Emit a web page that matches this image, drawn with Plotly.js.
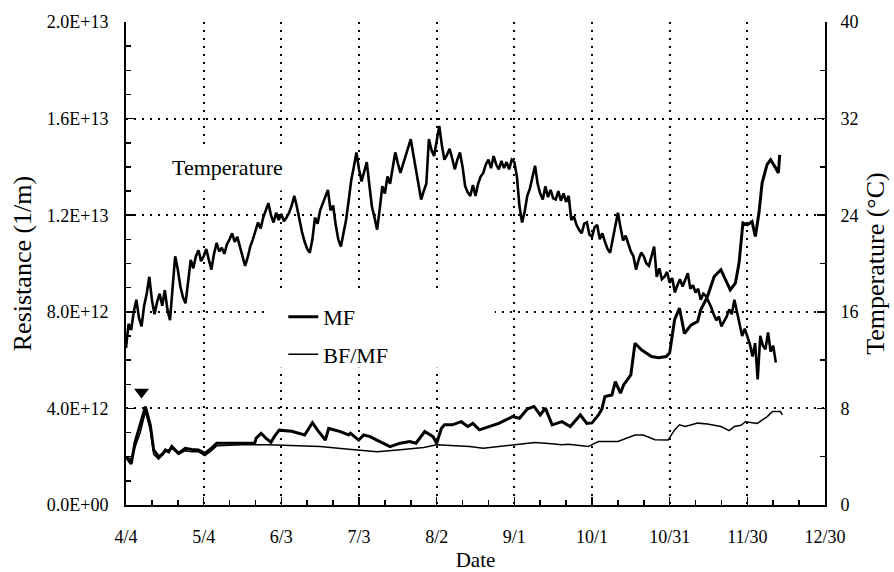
<!DOCTYPE html>
<html>
<head>
<meta charset="utf-8">
<script src="https://cdn.plot.ly/plotly-3.0.1.min.js"></script>
<style>html,body{margin:0;padding:0;background:#fff;}#chart{width:894px;height:572px;}</style>
</head>
<body>
<div id="chart"></div>
<script>
// ---- data (x = days after 4/4) ----
const xTickVals = [0, 30, 60, 90, 120, 150, 180, 210, 240, 270];
const xTickText = ['4/4', '5/4', '6/3', '7/3', '8/2', '9/1', '10/1', '10/31', '11/30', '12/30'];
const yTickVals = [0, 4e12, 8e12, 1.2e13, 1.6e13, 2e13];
const yTickText = ['0.0E+00', '4.0E+12', '8.0E+12', '1.2E+13', '1.6E+13', '2.0E+13'];
const y2TickVals = [0, 8, 16, 24, 32, 40];

// daily temperature (°C), day 0 = 4/4
const tempC = [
 13, 15, 14.5, 16, 17, 15.5, 14.8, 16.5, 17.5, 18.9,
 17, 15.8, 16.8, 17.5, 16.5, 17.8, 16.2, 15.3, 18, 20.6,
 19.5, 18.1, 17.2, 16.7, 18.5, 20.3, 19.6, 20.6, 21.1, 20.2,
 20.6, 21.2, 20.3, 19.5, 20.8, 21.7, 21, 21.3, 20.8, 21.6,
 22, 22.5, 21.8, 22.2, 21.4, 20.6, 19.8, 20.5, 21.4, 22,
 22.8, 23.4, 22.9, 23.8, 24.4, 25, 24, 23.4, 24.2, 23.6,
 24.1, 23.5, 23.8, 24.2, 24.8, 25.6, 24.7, 23.5, 22.6, 21.8,
 21.2, 20.9, 22, 23.8, 23.3, 24.4, 25, 25.5, 26.1, 24.4,
 24.8, 23.2, 22, 21.4, 22.5, 23.6, 25.2, 26.9, 28, 29.2,
 27.8, 26.8, 27.6, 28.4, 26.5, 24.7, 23.8, 22.8, 24.5, 26.4,
 25.8, 27.2, 26.6, 28, 29.2, 28.3, 27.5, 28.2, 28.9, 29.6,
 30.3, 29, 27.8, 26.5, 25.3, 26, 26.6, 30.3, 29.4, 28.9,
 30.2, 31.4, 29.8, 28.6, 29, 29.5, 28.7, 27.8, 28.6, 29.2,
 28, 26.4, 25.9, 25.6, 26.5, 25.6, 26.6, 27.2, 27.5, 28.2,
 28.6, 27.9, 28.9, 28.2, 27.8, 28.5, 27.9, 28.4, 27.8, 28.6,
 28.4, 27.2, 24.7, 23.4, 24.3, 25.6, 26.2, 27.3, 28.1, 26.6,
 25.8, 25.3, 26.4, 25.5, 26.1, 25.4, 25.3, 26, 25.2, 25.8,
 25.1, 25.6, 23.6, 23.9, 23.2, 22.8, 22.5, 23.3, 23.4, 22.4,
 22.2, 23, 23.2, 22, 22.5, 21.8, 21.2, 20.9, 22, 23.4,
 24.2, 23, 21.9, 22.3, 21.6, 21, 20.6, 19.5, 20.3, 20.9,
 20.6, 20, 19.8, 20.6, 21.4, 18.9, 19.6, 18.7, 18.9, 19.3,
 18.4, 18.8, 17.6, 18.2, 18.7, 18.1, 18.6, 19.2, 17.9, 18.2,
 17.6, 17.9, 17, 17.5, 17.3, 16.9, 16.4, 15.8, 15.3, 15.6,
 14.8, 15.2, 15.6, 16.2, 15.8, 17, 16, 15.1, 14, 14.6,
 14, 13.3, 12.3, 13.4, 10.4, 14, 13.2, 12.9, 14.3, 12.7,
 13.2, 11.8
];
const tempDay = tempC.map((_, i) => i);

// MF resistance (1/m)
const mfDay = [0, 2, 3.5, 5.5, 7.5, 9.4, 10.7, 12.6, 14, 15.2, 16.5, 17.7, 20.3, 22.9, 25.4, 28, 30.5, 33, 35, 40.7, 49.7, 50.3, 52.2, 54, 56, 57.3, 59.2, 64, 69, 72, 74, 77, 78.3, 82.8, 86, 86.7, 89.9, 91.8, 94.3, 96.9, 102, 105.9, 109.6, 112, 115.4, 118.6, 120, 121.8, 123, 126, 129.5, 132, 134, 136.5, 140, 144, 149.3, 152, 155, 157.6, 160, 162, 164.6, 168.4, 171.6, 175.5, 178, 180, 182.5, 183.8, 185, 187.7, 189, 191, 192.2, 195, 196.6, 199.2, 203, 205.7, 208.7, 210, 211.9, 213.8, 215.7, 218.3, 220.8, 222, 224.6, 227.2, 229.8, 231.5, 233.4, 235.4, 236.8, 238.3, 240, 241.8, 243.1, 244.5, 245.7, 247.6, 249, 250.9, 252, 252.5];
const mfVal = [2.0e12, 1.7e12, 2.6e12, 3.3e12, 4.07e12, 3.3e12, 2.28e12, 2.0e12, 2.1e12, 2.28e12, 2.2e12, 2.42e12, 2.14e12, 2.35e12, 2.3e12, 2.28e12, 2.14e12, 2.35e12, 2.56e12, 2.56e12, 2.56e12, 2.77e12, 2.97e12, 2.77e12, 2.6e12, 2.83e12, 3.1e12, 3.05e12, 2.9e12, 3.41e12, 3.1e12, 2.69e12, 3.17e12, 3.04e12, 2.9e12, 2.97e12, 2.69e12, 2.9e12, 2.83e12, 2.69e12, 2.42e12, 2.56e12, 2.63e12, 2.56e12, 3.04e12, 2.83e12, 2.56e12, 3.17e12, 3.32e12, 3.32e12, 3.45e12, 3.25e12, 3.38e12, 3.11e12, 3.25e12, 3.38e12, 3.66e12, 3.59e12, 3.97e12, 4.08e12, 3.73e12, 4.01e12, 3.32e12, 3.45e12, 3.25e12, 3.73e12, 3.38e12, 3.4e12, 3.73e12, 3.97e12, 4.49e12, 4.56e12, 5.11e12, 4.63e12, 4.97e12, 5.39e12, 6.7e12, 6.42e12, 6.15e12, 6.1e12, 6.15e12, 6.3e12, 7.67e12, 8.15e12, 7.1e12, 7.46e12, 7.6e12, 8.08e12, 8.63e12, 9.46e12, 9.74e12, 9.33e12, 8.91e12, 9.19e12, 10.02e12, 11.68e12, 11.6e12, 11.74e12, 11.12e12, 12.1e12, 13.33e12, 14.09e12, 14.3e12, 13.96e12, 13.75e12, 14.5e12];

// BF/MF resistance (1/m)
const bfDay = [0, 2, 3.5, 5.5, 7.5, 9.4, 10.7, 12.6, 15.2, 17.7, 20.3, 22.9, 25.4, 28, 30.5, 33, 35, 45, 55, 65, 75, 85, 90, 97, 105, 110, 115, 120, 132.7, 138, 149.3, 158, 163.3, 168.4, 171, 178.5, 182.5, 190, 196.6, 199.8, 204.3, 209.4, 211.9, 213.8, 216, 220.8, 224.6, 229.8, 233, 235, 237.5, 239.3, 243.8, 247.7, 249.7, 252.8, 253.5];
const bfVal = [2.0e12, 1.9e12, 2.4e12, 3.0e12, 3.87e12, 3.1e12, 2.1e12, 1.9e12, 2.2e12, 2.35e12, 2.1e12, 2.25e12, 2.2e12, 2.2e12, 2.05e12, 2.25e12, 2.45e12, 2.5e12, 2.49e12, 2.45e12, 2.42e12, 2.32e12, 2.28e12, 2.21e12, 2.28e12, 2.32e12, 2.38e12, 2.49e12, 2.42e12, 2.35e12, 2.49e12, 2.59e12, 2.55e12, 2.49e12, 2.52e12, 2.42e12, 2.63e12, 2.63e12, 2.9e12, 2.9e12, 2.7e12, 2.69e12, 3.11e12, 3.32e12, 3.25e12, 3.39e12, 3.35e12, 3.25e12, 3.08e12, 3.25e12, 3.3e12, 3.45e12, 3.38e12, 3.66e12, 3.87e12, 3.87e12, 3.73e12];

// event marker
const markDay = [6];
const markVal = [4.68e12];

const FONT = '"Liberation Serif", "Times New Roman", serif';

const traces = [
  {x: tempDay, y: tempC, yaxis: 'y2', type: 'scatter', mode: 'lines', name: 'Temperature',
   line: {color: '#000', width: 2.6}, showlegend: false},
  {x: mfDay, y: mfVal, type: 'scatter', mode: 'lines', name: 'MF', legendgroup: 'a',
   line: {color: '#000', width: 3}},
  {x: bfDay, y: bfVal, type: 'scatter', mode: 'lines', name: 'BF/MF', legendgroup: 'b',
   line: {color: '#000', width: 1.5}},
  {x: markDay, y: markVal, type: 'scatter', mode: 'markers', name: 'mark', showlegend: false,
   marker: {symbol: 'triangle-down', size: 13, color: '#000'}}
];

const gridStyle = {showgrid: true, gridcolor: '#000', gridwidth: 2, griddash: '2px,6px'};

const layout = {
  width: 894, height: 572,
  margin: {l: 126, r: 69, t: 22, b: 67},
  paper_bgcolor: '#fff', plot_bgcolor: '#fff',
  font: {family: FONT, size: 18, color: '#000'},
  showlegend: true,
  legend: {x: 0.225, y: 0.433, xanchor: 'left', yanchor: 'top', bgcolor: 'rgba(0,0,0,0)',
           font: {size: 22}, tracegroupgap: 6, itemwidth: 30},
  xaxis: Object.assign({
    range: [0, 270], tickmode: 'array', tickvals: xTickVals, ticktext: xTickText,
    ticks: 'inside', ticklen: 8, tickwidth: 1.5, tickcolor: '#000',
    showline: true, linecolor: '#000', linewidth: 2, zeroline: false,
    ticklabelstandoff: 14,
    minor: {tickmode: 'linear', tick0: 0, dtick: 10, ticks: 'inside', ticklen: 5, tickcolor: '#000', tickwidth: 1.5, showgrid: false},
    title: {text: 'Date', font: {size: 21}, standoff: 8}
  }, gridStyle),
  yaxis: Object.assign({
    range: [0, 2e13], tickmode: 'array', tickvals: yTickVals, ticktext: yTickText,
    ticks: 'inside', ticklen: 8, tickwidth: 1.5, tickcolor: '#000',
    showline: true, linecolor: '#000', linewidth: 2, zeroline: false,
    ticklabelstandoff: 12,
    minor: {tickmode: 'linear', tick0: 0, dtick: 1e12, ticks: 'inside', ticklen: 5, tickcolor: '#000', tickwidth: 1.5, showgrid: false},
    title: {text: 'Resistance (1/m)', font: {size: 26}, standoff: 8}
  }, gridStyle),
  yaxis2: {
    overlaying: 'y', side: 'right', range: [0, 40], tickmode: 'array', tickvals: y2TickVals,
    ticks: 'inside', ticklen: 8, tickwidth: 1.5, tickcolor: '#000',
    showline: true, linecolor: '#000', linewidth: 2, zeroline: false, showgrid: false,
    ticklabelstandoff: 10,
    minor: {tickmode: 'linear', tick0: 0, dtick: 4, ticks: 'inside', ticklen: 5, tickcolor: '#000', tickwidth: 1.5, showgrid: false},
    title: {text: 'Temperature (°C)', font: {size: 26}, standoff: 8}
  },
  shapes: [
    {type: 'rect', xref: 'x', yref: 'y', x0: 53.7, x1: 142.5, y0: 5.68e12, y1: 8.79e12,
     fillcolor: '#fff', line: {width: 0}, layer: 'between'}
  ],
  annotations: [
    {text: 'Temperature', xref: 'paper', yref: 'paper', x: 0.145, y: 0.698, xanchor: 'center', yanchor: 'middle',
     showarrow: false, font: {size: 22}, bgcolor: '#fff', borderpad: 10}
  ]
};

Plotly.newPlot('chart', traces, layout, {displayModeBar: false, staticPlot: true});
</script>
</body>
</html>
